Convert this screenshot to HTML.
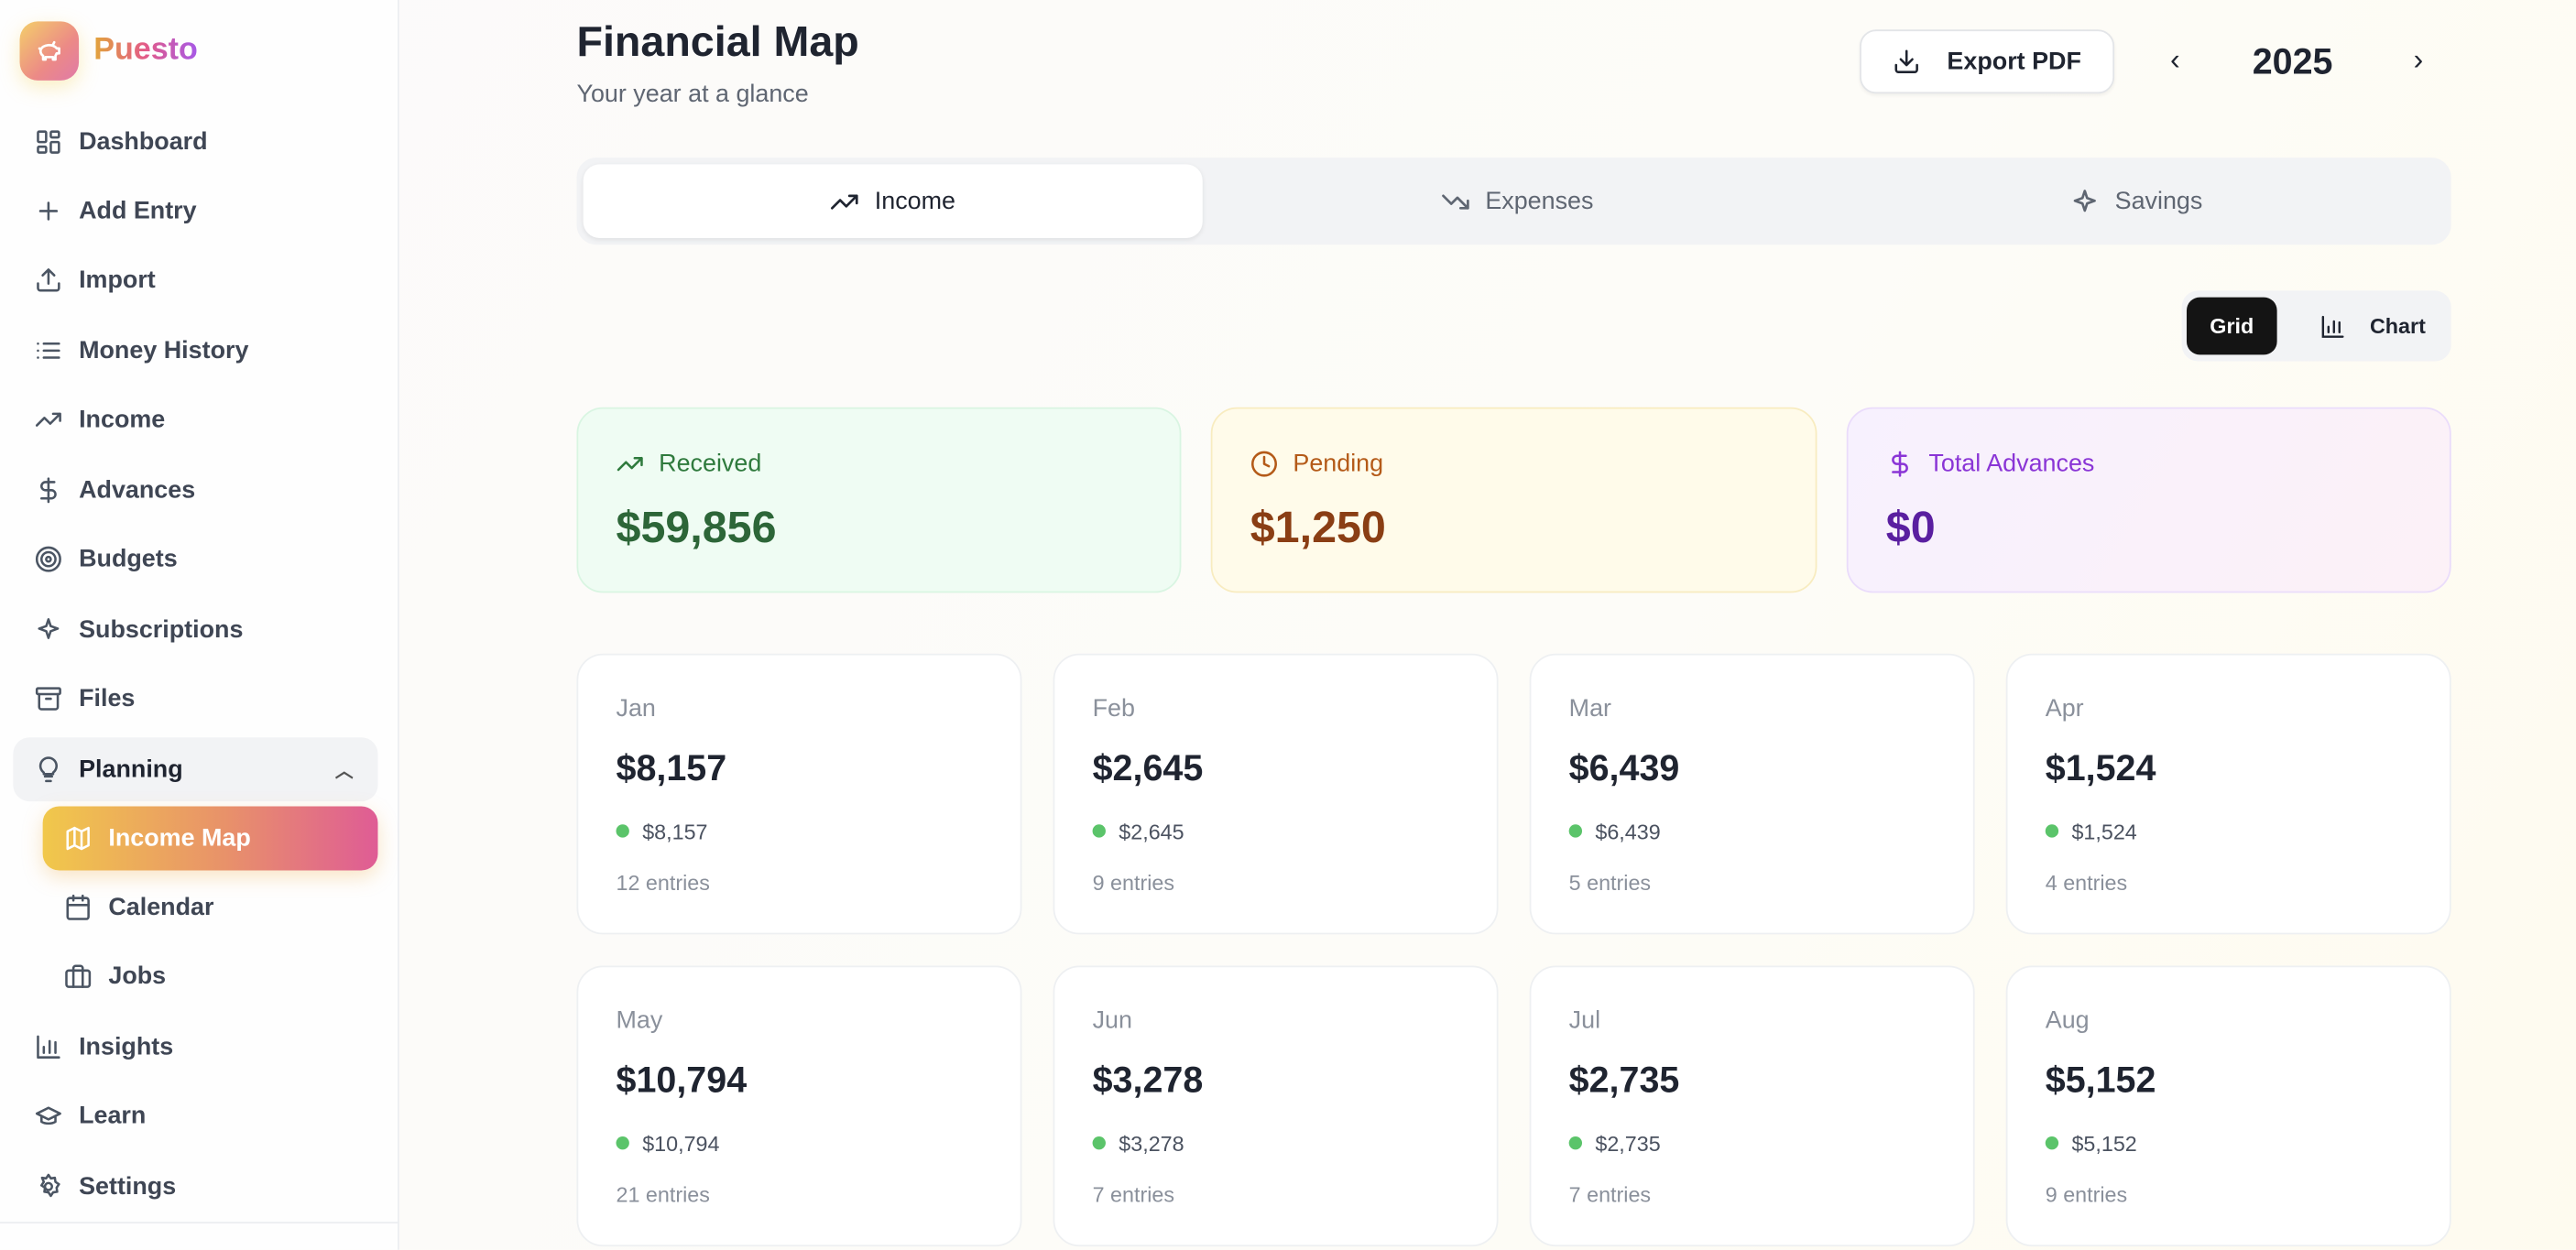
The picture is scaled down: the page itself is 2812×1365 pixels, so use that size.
<!DOCTYPE html>
<html><head><meta charset="utf-8"><style>
*{box-sizing:border-box;margin:0;padding:0}
html,body{width:2812px;height:1364px;overflow:hidden;background:#fdfcf9}
#root{position:absolute;left:0;top:0;width:1568px;height:761px;transform:scale(1.79337);transform-origin:0 0;font-family:"Liberation Sans",sans-serif;background:linear-gradient(120deg,#fbfafa 0%,#fdfcf8 60%,#fefbef 100%)}
.abs{position:absolute}
#side{left:0;top:0;width:243px;height:761px;background:#fefefe;border-right:1px solid #eceef1}
.nav{position:absolute;left:8px;width:222px;height:39px;display:flex;align-items:center;font-size:15px;font-weight:600;color:#3f4654;border-radius:10px}
.nav svg{position:absolute;left:13px;width:17px;height:17px;fill:none;stroke:#4b5563;stroke-width:2;stroke-linecap:round;stroke-linejoin:round}
.nav span{position:absolute;left:40px}
.sub svg{left:31px}.sub span{left:58px}
.card{position:absolute;background:#fff;border:1px solid #eef0f2;border-radius:16px}
.mlab{position:absolute;left:23px;top:24px;font-size:15px;color:#8a909b}
.mval{position:absolute;left:23px;top:56px;font-size:22px;font-weight:700;color:#1f2430}
.mdot{position:absolute;left:23px;top:100px;font-size:13px;color:#4b5260}
.mdot i{display:inline-block;width:8px;height:8px;border-radius:4px;background:#5bc46a;margin-right:8px;vertical-align:1px}
.ment{position:absolute;left:23px;top:131px;font-size:13px;color:#8a909b}
.tab{position:absolute;top:100px;height:45px;display:flex;align-items:center;justify-content:center;font-size:15px;color:#5f6672}
.tab svg{width:18px;height:18px;fill:none;stroke:currentColor;stroke-width:2;stroke-linecap:round;stroke-linejoin:round;margin-right:9px}
.sum{position:absolute;top:248px;height:113px;border-radius:16px}
.sum .l{position:absolute;left:23px;top:25px;font-size:15px;display:flex;align-items:center}
.sum .l svg{width:17px;height:17px;fill:none;stroke:currentColor;stroke-width:2;stroke-linecap:round;stroke-linejoin:round;margin-right:9px}
.sum .v{position:absolute;left:23px;top:57px;font-size:27px;font-weight:700}
</style></head><body>
<div id="root">
<div id="side" class="abs">
  <div class="abs" style="left:12px;top:13px;width:36px;height:36px;border-radius:11px;background:linear-gradient(135deg,#f4cf6a,#ec8a86 60%,#e07aa8);box-shadow:0 4px 12px rgba(245,210,80,.35);display:flex;align-items:center;justify-content:center"><svg viewBox="0 0 24 24" width="18" height="18" style="fill:none;stroke:#fff;stroke-width:2;stroke-linecap:round;stroke-linejoin:round"><path d="M5 11a7 5 0 0 1 13-1h2v4h-2l-1 2v3h-2v-2H9v2H7v-3a5 5 0 0 1-2-5zM4 10l1 1M15 7l1-2"/></svg></div>
  <div class="abs" style="left:57px;top:20px;font-size:19px;font-weight:700;background:linear-gradient(90deg,#e2a53a,#e35b88 50%,#a759e6);-webkit-background-clip:text;background-clip:text;color:transparent">Puesto</div>
  <div class="nav" style="top:67px"><svg viewBox="0 0 24 24"><rect x="3" y="3" width="7" height="9" rx="1"/><rect x="14" y="3" width="7" height="5" rx="1"/><rect x="14" y="12" width="7" height="9" rx="1"/><rect x="3" y="16" width="7" height="5" rx="1"/></svg><span>Dashboard</span></div>
  <div class="nav" style="top:109px"><svg viewBox="0 0 24 24"><path d="M12 5v14M5 12h14"/></svg><span>Add Entry</span></div>
  <div class="nav" style="top:151px"><svg viewBox="0 0 24 24"><path d="M21 15v4a2 2 0 0 1-2 2H5a2 2 0 0 1-2-2v-4M17 8l-5-5-5 5M12 3v12"/></svg><span>Import</span></div>
  <div class="nav" style="top:194px"><svg viewBox="0 0 24 24"><path d="M8 6h13M8 12h13M8 18h13M3 6h.01M3 12h.01M3 18h.01"/></svg><span>Money History</span></div>
  <div class="nav" style="top:236px"><svg viewBox="0 0 24 24"><path d="M22 7l-8.5 8.5-5-5L2 17M16 7h6v6"/></svg><span>Income</span></div>
  <div class="nav" style="top:279px"><svg viewBox="0 0 24 24"><path d="M12 2v20M17 5H9.5a3.5 3.5 0 0 0 0 7h5a3.5 3.5 0 0 1 0 7H6"/></svg><span>Advances</span></div>
  <div class="nav" style="top:321px"><svg viewBox="0 0 24 24"><circle cx="12" cy="12" r="10"/><circle cx="12" cy="12" r="6"/><circle cx="12" cy="12" r="2"/></svg><span>Budgets</span></div>
  <div class="nav" style="top:364px"><svg viewBox="0 0 24 24"><path d="M12 3l1.9 5.8L20 11l-6.1 2.2L12 19l-1.9-5.8L4 11l6.1-2.2z"/></svg><span>Subscriptions</span></div>
  <div class="nav" style="top:406px"><svg viewBox="0 0 24 24"><rect x="2" y="3" width="20" height="5" rx="1"/><path d="M4 8v11a2 2 0 0 0 2 2h12a2 2 0 0 0 2-2V8M10 12h4"/></svg><span>Files</span></div>
  <div class="nav" style="top:449px;background:#f2f3f5"><svg viewBox="0 0 24 24"><path d="M9 18h6M10 22h4M12 2a7 7 0 0 0-4 12.7V16h8v-1.3A7 7 0 0 0 12 2z"/></svg><span style="color:#1f2430">Planning</span><span style="left:196px;font-size:11px;color:#555">︿</span></div>
  <div class="nav sub" style="top:491px;left:26px;width:204px;background:linear-gradient(90deg,#f1c84b,#e8916a 55%,#df5c95);box-shadow:0 4px 12px rgba(240,180,90,.35)"><svg viewBox="0 0 24 24" style="left:13px;stroke:#fff"><path d="M3 6l6-3 6 3 6-3v15l-6 3-6-3-6 3zM9 3v15M15 6v15"/></svg><span style="left:40px;color:#fff">Income Map</span></div>
  <div class="nav sub" style="top:533px"><svg viewBox="0 0 24 24"><rect x="3" y="4" width="18" height="18" rx="2"/><path d="M16 2v4M8 2v4M3 10h18"/></svg><span>Calendar</span></div>
  <div class="nav sub" style="top:575px"><svg viewBox="0 0 24 24"><rect x="2" y="7" width="20" height="14" rx="2"/><path d="M16 21V5a2 2 0 0 0-2-2h-4a2 2 0 0 0-2 2v16"/></svg><span>Jobs</span></div>
  <div class="nav" style="top:618px"><svg viewBox="0 0 24 24"><path d="M3 3v18h18M8 17v-5M13 17V7M18 17v-9"/></svg><span>Insights</span></div>
  <div class="nav" style="top:660px"><svg viewBox="0 0 24 24"><path d="M22 10L12 5 2 10l10 5 10-5zM6 12v5c3 2 9 2 12 0v-5"/></svg><span>Learn</span></div>
  <div class="nav" style="top:703px"><svg viewBox="0 0 24 24"><circle cx="12" cy="12" r="3"/><path d="M12 2l2 3 3.5-.5.5 3.5 3 2-2 3 .5 3.5-3.5.5-2 3-2-3-3.5-.5.5-3.5-3-2 2-3L6.5 4.5 10 5z"/></svg><span>Settings</span></div>
  <div class="abs" style="left:0;top:744px;width:243px;height:1px;background:#eceef1"></div>
</div>

<div class="abs" style="left:351px;top:10px;font-size:26px;font-weight:700;color:#1f2430">Financial Map</div>
<div class="abs" style="left:351px;top:49px;font-size:15px;color:#5f6672">Your year at a glance</div>
<div class="abs" style="left:1132px;top:18px;width:155px;height:39px;background:#fff;border:1px solid #e3e5e8;border-radius:10px;display:flex;align-items:center;justify-content:center;font-size:15px;font-weight:600;color:#1f2430;box-shadow:0 1px 2px rgba(0,0,0,.05)"><svg viewBox="0 0 24 24" width="17" height="17" style="fill:none;stroke:#1f2430;stroke-width:2;stroke-linecap:round;stroke-linejoin:round;margin-right:16px"><path d="M21 15v4a2 2 0 0 1-2 2H5a2 2 0 0 1-2-2v-4M7 10l5 5 5-5M12 15V3"/></svg>Export PDF</div>
<div class="abs" style="left:1321px;top:26px;font-size:18px;color:#1f2430">‹</div>
<div class="abs" style="left:1371px;top:25px;font-size:22px;font-weight:700;color:#1f2430">2025</div>
<div class="abs" style="left:1469px;top:26px;font-size:18px;color:#1f2430">›</div>

<div class="abs" style="left:351px;top:96px;width:1141px;height:53px;background:#f2f3f5;border-radius:12px"></div>
<div class="abs" style="left:355px;top:100px;width:377px;height:45px;background:#fff;border-radius:10px;box-shadow:0 1px 3px rgba(0,0,0,.08)"></div>
<div class="tab" style="left:355px;width:377px;color:#1f2430"><svg viewBox="0 0 24 24"><path d="M22 7l-8.5 8.5-5-5L2 17M16 7h6v6"/></svg>Income</div>
<div class="tab" style="left:735px;width:377px"><svg viewBox="0 0 24 24"><path d="M22 17l-8.5-8.5-5 5L2 7M16 17h6v-6"/></svg>Expenses</div>
<div class="tab" style="left:1112px;width:377px"><svg viewBox="0 0 24 24"><path d="M12 3l1.9 5.8L20 11l-6.1 2.2L12 19l-1.9-5.8L4 11l6.1-2.2z"/></svg>Savings</div>

<div class="abs" style="left:1328px;top:177px;width:164px;height:43px;background:#f2f3f5;border-radius:10px"></div>
<div class="abs" style="left:1331px;top:181px;width:55px;height:35px;background:#141414;border-radius:8px;color:#fff;font-size:13px;font-weight:700;display:flex;align-items:center;justify-content:center">Grid</div>
<div class="abs" style="left:1400px;top:181px;width:88px;height:35px;color:#1f2430;font-size:13px;font-weight:700;display:flex;align-items:center;justify-content:center"><svg viewBox="0 0 24 24" width="16" height="16" style="fill:none;stroke:#1f2430;stroke-width:2;stroke-linecap:round;margin-right:15px"><path d="M3 3v18h18M8 17v-5M13 17V7M18 17v-9"/></svg>Chart</div>

<div class="sum" style="left:351px;width:368px;background:#effcf3;border:1px solid #d9f5e2;color:#2f7a3d"><div class="l"><svg viewBox="0 0 24 24"><path d="M22 7l-8.5 8.5-5-5L2 17M16 7h6v6"/></svg>Received</div><div class="v" style="color:#2d6638">$59,856</div></div>
<div class="sum" style="left:737px;width:369px;background:#fffbea;border:1px solid #f8ecc0;color:#b45a18"><div class="l"><svg viewBox="0 0 24 24"><circle cx="12" cy="12" r="10"/><path d="M12 6v6l4 2"/></svg>Pending</div><div class="v" style="color:#8a3e14">$1,250</div></div>
<div class="sum" style="left:1124px;width:368px;background:linear-gradient(120deg,#f7f1fe,#fcf1f7);border:1px solid #eadcfb;color:#8a35d6"><div class="l"><svg viewBox="0 0 24 24"><path d="M12 2v20M17 5H9.5a3.5 3.5 0 0 0 0 7h5a3.5 3.5 0 0 1 0 7H6"/></svg>Total Advances</div><div class="v" style="color:#5a1fa0">$0</div></div>

<div id="months"></div>
</div>
<script>
const months=["Jan","Feb","Mar","Apr","May","Jun","Jul","Aug"];
const totals=[8157,2645,6439,1524,10794,3278,2735,5152];
const entries=[12,9,5,4,21,7,7,9];
const root=document.getElementById('months');
const fmt=v=>'$'+v.toLocaleString('en-US');
months.forEach((m,i)=>{
  const c=document.createElement('div');
  c.className='card';
  
  
  const col=i%4,row=Math.floor(i/4);
  c.style.left=(351+col*290)+'px';c.style.top=(398+row*190)+'px';
  c.style.width='271px';c.style.height='171px';
  c.innerHTML='<div class="mlab">'+m+'</div><div class="mval">'+fmt(totals[i])+'</div><div class="mdot"><i></i>'+fmt(totals[i])+'</div><div class="ment">'+entries[i]+' entries</div>';
  root.appendChild(c);
});
</script>
</body></html>
